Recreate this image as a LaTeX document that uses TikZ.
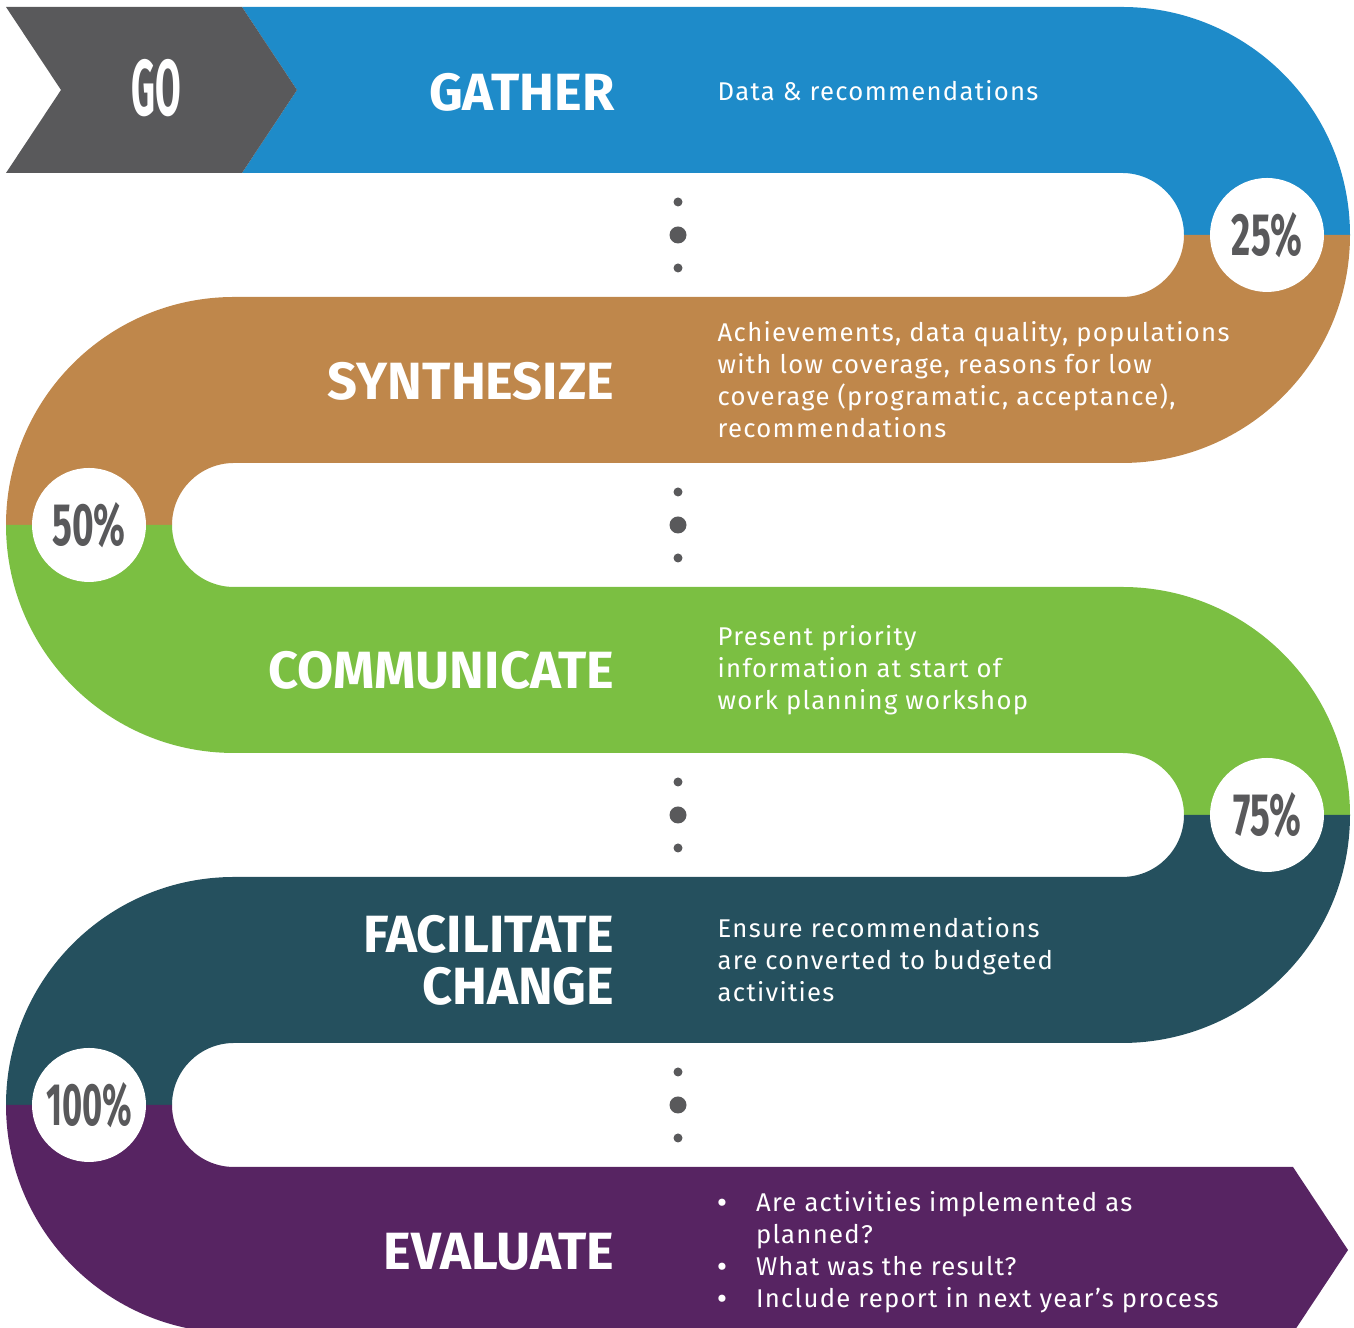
\documentclass[tikz,border=0pt]{standalone}
\usepackage{fontspec}
\setmainfont{Fira Sans}
\newfontfamily\descfont[LetterSpace=5]{Fira Sans}
\definecolor{gatherblue}{HTML}{1E8BC9}
\definecolor{synthbrown}{HTML}{BF874B}
\definecolor{commgreen}{HTML}{7BBF42}
\definecolor{changeteal}{HTML}{25505E}
\definecolor{evalpurple}{HTML}{572462}
\definecolor{gogray}{HTML}{59595B}
\begin{document}
\begin{tikzpicture}[x=0.01cm, y=0.01cm,
    title/.style={anchor=east, inner sep=0pt, text=white, align=right,
        font=\bfseries\fontsize{14.9}{14.8}\selectfont},
    desc/.style={anchor=west, inner sep=0pt, text=white, align=left,
        font=\descfont\fontsize{7.3}{9.1}\selectfont},
    pct/.style={xscale=0.62, inner sep=0pt, text=gogray,
        font=\bfseries\fontsize{17}{17}\selectfont}]
    \useasboundingbox (0,0) rectangle (1354,1328);
    % the winding road, one colour per stage
    \fill [gatherblue] (242,1321)--(1122,1321) arc [start angle=90, end angle=0, radius=228]
        --(1184,1093) arc [start angle=0, end angle=90, radius=62]
        --(242,1155)--(297,1238)--cycle;
    \fill [synthbrown] (1350,1093) arc [start angle=0, end angle=-90, radius=228]
        --(234,865) arc [start angle=90, end angle=180, radius=62]
        --(6,803) arc [start angle=180, end angle=90, radius=228]
        --(1122,1031) arc [start angle=270, end angle=360, radius=62]--cycle;
    \fill [commgreen] (6,803) arc [start angle=180, end angle=270, radius=228]
        --(1122,575) arc [start angle=90, end angle=0, radius=62]
        --(1350,513) arc [start angle=0, end angle=90, radius=228]
        --(234,741) arc [start angle=270, end angle=180, radius=62]--cycle;
    \fill [changeteal] (1350,513) arc [start angle=0, end angle=-90, radius=228]
        --(234,285) arc [start angle=90, end angle=180, radius=62]
        --(6,223) arc [start angle=180, end angle=90, radius=228]
        --(1122,451) arc [start angle=270, end angle=360, radius=62]--cycle;
    \fill [evalpurple] (6,223) arc [start angle=180, end angle=270, radius=228]
        --(1293,-5)--(1348,78)--(1293,161)
        --(234,161) arc [start angle=270, end angle=180, radius=62]--cycle;
    \fill [gogray] (6,1321)--(242,1321)--(297,1238)--(242,1155)--(6,1155)--(61,1238)--cycle;
    % dots between the stages
    \fill [gogray] (678,1126) circle (4.5);
    \fill [gogray] (678,1093) circle (8.5);
    \fill [gogray] (678,1060) circle (4.5);
    \fill [gogray] (678,836) circle (4.5);
    \fill [gogray] (678,803) circle (8.5);
    \fill [gogray] (678,770) circle (4.5);
    \fill [gogray] (678,546) circle (4.5);
    \fill [gogray] (678,513) circle (8.5);
    \fill [gogray] (678,480) circle (4.5);
    \fill [gogray] (678,256) circle (4.5);
    \fill [gogray] (678,223) circle (8.5);
    \fill [gogray] (678,190) circle (4.5);
    % progress marks
    \fill [white] (1267,1093) circle (57);
    \fill [white] (89,803) circle (57);
    \fill [white] (1267,513) circle (57);
    \fill [white] (89,223) circle (57);
    \node (p25) at (1267,1093) [pct] {25\%};
    \node (p50) at (89,803) [pct] {50\%};
    \node (p75) at (1267,513) [pct] {75\%};
    \node (p100) at (89,223) [pct, xscale=0.93] {100\%};
    \node (go) at (156,1240) [xscale=0.47, text=white, font=\bfseries\fontsize{22.5}{22.5}\selectfont] {GO};
    % stage titles
    \node (gather) at (615,1236) [title] {GATHER};
    \node (synth) at (615,947) [title] {SYNTHESIZE};
    \node (comm) at (615,658) [title] {COMMUNICATE};
    \node (change) at (615,368) [title] {FACILITATE\\CHANGE};
    \node (eval) at (615,76) [title] {EVALUATE};
    % stage details
    \node (gatherdesc) at (717,1237) [desc] {Data \& recommendations};
    \node (synthdesc) at (717,948) [desc] {Achievements, data quality, populations\\with low coverage, reasons for low\\coverage (programatic, acceptance),\\recommendations};
    \node (commdesc) at (717,658) [desc] {Present priority\\information at start of\\work planning workshop};
    \node (changedesc) at (717,368) [desc] {Ensure recommendations\\are converted to budgeted\\activities};
    \node (evaldesc) at (717,75) [desc] {\begin{tabular}{@{}l@{\hspace{8pt}}l@{}}
        \textbf{\textbullet} & Are activities implemented as\\
         & planned?\\
        \textbf{\textbullet} & What was the result?\\
        \textbf{\textbullet} & Include report in next year’s process
        \end{tabular}};
\end{tikzpicture}
\end{document}
